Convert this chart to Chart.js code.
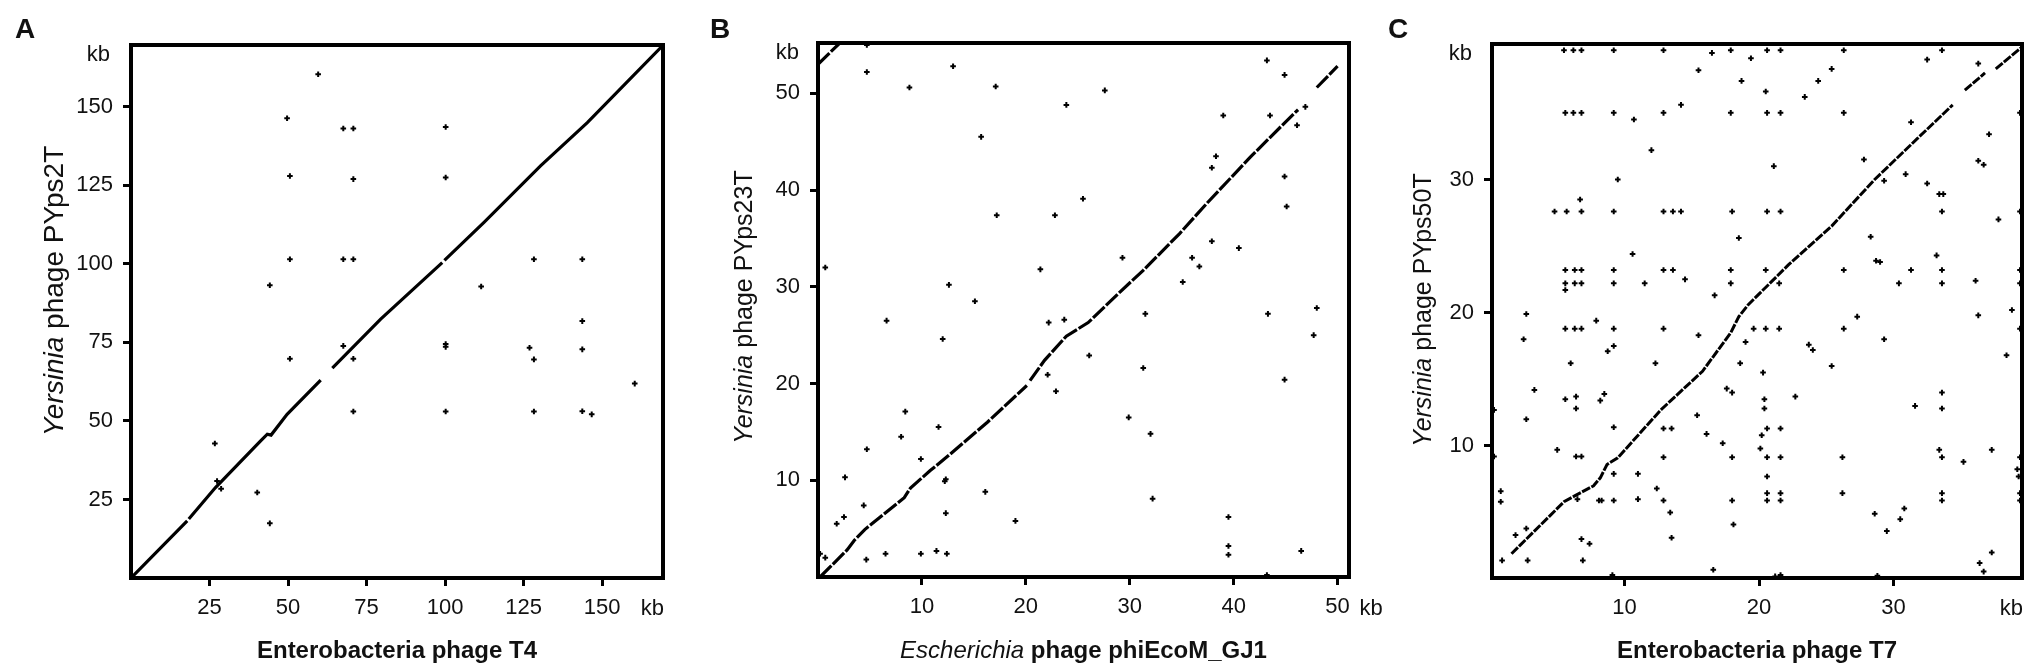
<!DOCTYPE html>
<html>
<head>
<meta charset="utf-8">
<script src="https://cdn.jsdelivr.net/npm/chart.js@4.4.1/dist/chart.umd.min.js"></script>
<style>
  body { margin: 0; background: #fff; }
  #wrap { position: relative; width: 2033px; height: 671px; }
  canvas { position: absolute; left: 0; top: 0; }
</style>
</head>
<body>
<div id="wrap">
  <canvas id="panelA" width="2033" height="671" style="width:2033px;height:671px"></canvas>
  <canvas id="panelB" width="2033" height="671" style="width:2033px;height:671px"></canvas>
  <canvas id="panelC" width="2033" height="671" style="width:2033px;height:671px"></canvas>
</div>
<script>
// dot plots, positions in kb: [x, y]; null = gap in the main diagonal

// A: Enterobacteria phage T4 vs Yersinia phage PYps2T
var aTicks = [25, 50, 75, 100, 125, 150];
var aDiag = [[0,0],[17.9,18.2],null,[18.4,18.8],[26.9,28.8],[41.2,43.6],[43.4,45.8],[44.6,45.5],
  [49.7,52.1],[60.4,63.0],null,[64.1,66.8],[79.5,82.4],[99.1,100.4],null,[99.8,101.1],
  [112.4,113.2],[130.4,131.2],[145.3,145],[169.2,169.4]];
var aDots = [
  [59.6,160.4],[49.7,146.4],[67.6,143.1],[70.8,143.1],[100.2,143.6],
  [50.6,128.0],[70.8,127.0],[100.2,127.5],
  [50.6,101.5],[67.6,101.5],[70.8,101.5],[128.3,101.5],[143.7,101.5],
  [44.2,93.2],[111.5,92.8],[143.7,81.8],
  [67.6,73.9],[100.2,74.5],[100.2,73.6],[126.9,73.3],[143.7,72.8],
  [50.6,69.8],[70.8,69.8],[128.3,69.6],[160.4,61.9],
  [70.8,53.0],[100.2,53.0],[128.3,53.0],[143.7,53.1],[146.7,52.1],
  [26.7,42.8],[27.4,30.9],[28.7,28.4],[40.2,27.2],[44.2,17.4]
];

// B: Escherichia phage phiEcoM_GJ1 vs Yersinia phage PYps23T
var bTicks = [10, 20, 30, 40, 50];
var bDiag = [[0.2,0],[2.8,2.8],[3.5,3.8],[4.5,4.9],[8.3,8.2],[8.9,9.2],[10.8,11.0],[12.5,12.5],
  [16.3,16.0],[20.1,19.8],null,[20.4,20.3],[21.8,22.4],[23.9,24.9],[26.0,26.3],[29.0,29.4],
  [31.3,31.7],[34.8,35.5],[37.4,38.6],[41.6,43.4],[45.8,47.9],[46.2,48.3],null,[48.0,50.6],
  [50.0,52.8],null,[0,53.0],[2.2,55.3]];
var bDots = [
  [4.7,55.0],[4.7,52.2],[8.8,50.6],[13.0,52.8],[17.1,50.7],[23.9,48.8],[27.6,50.3],[15.7,45.5],
  [17.2,37.4],[22.8,37.4],[25.5,39.1],[0.7,32.0],[12.6,30.2],[21.4,31.8],[15.1,28.5],[6.6,26.5],
  [22.2,26.3],[23.7,26.6],[12.0,24.6],[26.1,22.9],[22.1,20.9],[22.9,19.2],[8.4,17.1],[11.6,15.5],
  [8.0,14.5],[4.7,13.2],[9.9,12.2],[2.6,10.3],[12.3,10.1],[12.2,9.9],[16.1,8.8],[4.4,7.4],
  [2.5,6.2],[1.8,5.5],[12.3,6.6],[19.0,5.8],[0.2,2.4],[0.7,2.0],[4.65,1.8],[6.5,2.4],
  [9.9,2.4],[11.4,2.7],[12.4,2.4],
  [29.3,33.0],[31.3,21.6],[31.5,27.2],[29.9,16.5],[32.0,14.8],[32.2,8.1],[35.1,30.5],[36.0,33.0],
  [36.7,32.1],[37.9,34.7],[37.9,42.3],[38.3,43.5],[39.0,47.7],[40.5,34.0],[39.5,6.2],[39.5,3.2],
  [39.5,2.3],[43.2,53.4],[43.5,47.7],[43.3,27.2],[44.9,51.9],[44.9,41.4],[45.1,38.3],[44.9,20.4],
  [46.1,46.7],[46.9,48.6],[48.0,27.8],[47.7,25.0],[46.5,2.7],[43.2,0.2]
];

// C: Enterobacteria phage T7 vs Yersinia phage PYps50T
var cTicks = [10, 20, 30];
var cDiag = [[1.6,1.9],[5.5,5.8],[6.4,6.3],[7.7,7.0],[8.2,7.6],[8.7,8.6],[9.5,9.1],[12.7,12.7],
  [15.8,15.6],[17.9,18.5],[18.5,19.7],[19.2,20.6],[22.2,23.6],[25.4,26.5],[28.6,30.0],[31.8,33.1],[34.4,35.6],
  null,[35.3,36.7],[36.8,38.0],null,[37.6,38.3],[39.5,39.9]];
var cDots = [
  [5.5,39.7],[6.2,39.7],[6.8,39.7],[9.2,39.7],[12.9,39.7],[17.9,39.7],[20.6,39.7],[21.6,39.7],[26.3,39.7],[33.6,39.7],
  [16.5,39.5],[19.4,39.1],[32.5,39.0],[36.3,38.7],[25.4,38.3],[15.5,38.2],[18.7,37.4],[24.4,37.4],[20.5,36.6],[23.4,36.2],[14.2,35.6],
  [5.6,35.0],[6.2,35.0],[6.8,35.0],[9.2,35.0],[12.9,35.0],[17.9,35.0],[20.6,35.0],[21.6,35.0],[26.3,35.0],[39.4,35.0],
  [10.7,34.5],[31.3,34.3],[37.1,33.4],[12.0,32.2],[27.8,31.5],[36.3,31.4],[36.7,31.1],[30.9,30.4],[21.1,31.0],
  [32.5,29.7],[33.4,28.9],[33.7,28.9],[9.5,30.0],[29.3,29.9],[6.7,28.5],
  [4.8,27.6],[5.7,27.6],[6.8,27.6],[9.2,27.6],[12.9,27.6],[13.6,27.6],[14.2,27.6],[18.0,27.6],[20.6,27.6],[21.6,27.6],[33.6,27.6],[39.4,27.6],
  [37.8,27.0],[28.3,25.7],[18.5,25.6],[28.7,23.9],[29.0,23.8],[33.2,24.3],[10.6,24.4],
  [5.6,23.2],[6.3,23.2],[6.8,23.2],[9.2,23.2],[12.9,23.2],[13.6,23.2],[17.9,23.2],[20.5,23.2],[26.3,23.2],[31.3,23.2],[33.6,23.2],[39.4,23.2],
  [5.6,22.2],[6.3,22.2],[6.8,22.2],[9.2,22.2],[11.5,22.2],[17.9,22.2],[21.5,22.2],[30.4,22.2],[33.6,22.2],[39.4,22.2],
  [36.1,22.4],[5.6,21.7],[14.5,22.5],[16.7,21.3],[38.8,20.2],[2.7,19.9],[36.3,19.8],[27.3,19.7],[7.9,19.4],
  [5.6,18.8],[6.3,18.8],[6.8,18.8],[9.2,18.8],[12.9,18.8],[19.6,18.8],[20.5,18.8],[21.5,18.8],[26.3,18.8],[39.4,18.8],
  [2.5,18.0],[15.5,18.3],[29.3,18.0],[9.2,17.5],[8.75,17.1],[19.0,17.8],[23.7,17.6],[24.0,17.2],[38.4,16.8],
  [6.0,16.2],[12.3,16.2],[18.6,16.2],[25.4,16.0],[20.3,15.5],
  [3.3,14.2],[17.6,14.3],[18.0,14.0],[33.6,14.0],[22.7,13.7],[5.6,13.5],[6.4,13.7],[20.4,13.5],[8.2,13.4],[8.5,13.9],
  [31.6,13.0],[0.3,12.7],[6.4,12.8],[20.4,12.8],[33.6,12.8],[2.7,12.0],[15.4,12.3],
  [9.2,11.4],[12.9,11.3],[13.5,11.3],[20.6,11.3],[21.6,11.3],[20.2,10.8],[16.1,10.9],[17.3,10.2],[20.1,9.8],
  [5.0,9.7],[33.4,9.7],[33.6,9.15],[37.3,9.7],[0.3,9.2],[6.4,9.2],[6.8,9.2],[12.9,9.15],[18.0,9.15],[20.6,9.15],
  [21.6,9.15],[26.2,9.15],[35.2,8.8],[39.2,8.25],[39.3,7.7],[39.4,9.15],[9.2,7.9],[11.0,7.9],[20.6,7.7],[12.4,6.8],
  [0.8,6.6],[0.8,5.8],
  [6.5,6.0],[8.1,5.9],[8.3,5.9],[9.2,5.9],[11.0,6.0],[12.9,5.9],[18.0,5.9],[20.6,5.9],[21.6,5.9],[33.6,5.9],[39.4,5.9],
  [20.6,6.45],[21.6,6.45],[26.2,6.45],[33.6,6.45],[39.4,6.45],
  [13.4,5.0],[13.5,3.1],[18.1,4.1],[28.6,4.9],[30.8,5.3],[30.5,4.5],[29.5,3.6],[37.3,2.0],[36.4,1.2],[36.7,0.56],
  [16.6,0.7],[21.2,0.2],[21.6,0.3],[28.8,0.24],[2.7,3.8],[1.9,3.3],[6.8,3.0],[7.4,2.65],[0.9,1.4],[2.8,1.4],
  [6.9,1.4],[9.1,0.3]
];

var FAMILY = '"Liberation Sans", Arial, Helvetica, sans-serif';
Chart.defaults.font.family = FAMILY;
Chart.defaults.color = '#111';

// draws text made of pieces with different styles, centred on (0, 0)
function drawRuns(ctx, runs, size) {
  var total = 0;
  runs.forEach(function (r) {
    ctx.font = r[1] + ' ' + size + 'px ' + FAMILY;
    total += ctx.measureText(r[0]).width;
  });
  var x = -total / 2;
  runs.forEach(function (r) {
    ctx.font = r[1] + ' ' + size + 'px ' + FAMILY;
    ctx.fillText(r[0], x, 0);
    x += ctx.measureText(r[0]).width;
  });
}

function decor(p) {
  return {
    id: 'decor',
    afterDraw: function (chart) {
      var ctx = chart.ctx, a = chart.chartArea;
      ctx.save();
      ctx.strokeStyle = '#000';
      ctx.lineWidth = 4;
      ctx.strokeRect(a.left, a.top, a.right - a.left, a.bottom - a.top);

      ctx.fillStyle = '#111';
      ctx.textBaseline = 'alphabetic';
      ctx.textAlign = 'left';
      ctx.font = 'bold 28px ' + FAMILY;
      ctx.fillText(p.letter, p.letterX, 38);

      // kb units
      ctx.font = '22px ' + FAMILY;
      ctx.textBaseline = 'middle';
      ctx.textAlign = 'right';
      ctx.fillText('kb', a.left - p.kbGap, a.top + 10);
      if (p.kbAfterLast) {
        ctx.textAlign = 'left';
        ctx.fillText('kb', chart.scales.x.getPixelForValue(p.ticks[p.ticks.length - 1]) + 22, 609);
      } else {
        ctx.fillText('kb', a.right + 1, 609);
      }

      // axis titles
      ctx.textAlign = 'left';
      ctx.textBaseline = 'alphabetic';
      ctx.save();
      ctx.translate((a.left + a.right) / 2, 658);
      drawRuns(ctx, p.xTitle, 24);
      ctx.restore();
      ctx.save();
      ctx.translate(a.left - p.yTitleGap, p.yTitleMid);
      ctx.rotate(-Math.PI / 2);
      drawRuns(ctx, p.yTitle, p.yTitleSize);
      ctx.restore();
      ctx.restore();
    }
  };
}

function axis(p, min, max, size, horizontal) {
  return {
    type: 'linear',
    min: min,
    max: max,
    afterBuildTicks: function (s) { s.ticks = p.ticks.map(function (v) { return { value: v }; }); },
    afterFit: function (s) { if (horizontal) s.height = size; else s.width = size; },
    grid: { drawOnChartArea: false, drawTicks: true, tickLength: 8, tickWidth: 3, tickColor: '#000' },
    border: { display: false },
    ticks: { font: { size: 22 }, color: '#111', padding: horizontal ? 9 : 10, autoSkip: false, maxRotation: 0 }
  };
}

function makePanel(id, p) {
  var line = [];
  p.diag.forEach(function (d, i) {
    if (d === null) line.push({ x: p.diag[i - 1][0], y: null });
    else line.push({ x: d[0], y: d[1] });
  });
  new Chart(document.getElementById(id), {
    type: 'scatter',
    data: {
      datasets: [
        { data: line, showLine: true, spanGaps: false, borderColor: '#000', borderWidth: p.lineWidth,
          borderDash: p.dash, pointRadius: 0, tension: 0 },
        { data: p.dots.map(function (d) { return { x: d[0], y: d[1] }; }), pointStyle: 'cross',
          pointRadius: 2.8, borderWidth: 2, borderColor: '#000', backgroundColor: '#000', clip: 4 }
      ]
    },
    options: {
      responsive: false,
      animation: false,
      devicePixelRatio: 1,
      layout: { padding: p.padding },
      plugins: { legend: { display: false }, tooltip: { enabled: false } },
      scales: {
        x: axis(p, p.x[0], p.x[1], p.xHeight, true),
        y: axis(p, p.y[0], p.y[1], p.yWidth, false)
      }
    },
    plugins: [decor(p)]
  });
}

makePanel('panelA', {
  letter: 'A', letterX: 15, ticks: aTicks, diag: aDiag, dots: aDots, lineWidth: 3.2, dash: [],
  x: [0, 169.4], y: [0, 169.7], padding: { left: 0, right: 1370, top: 45, bottom: 0 },
  yWidth: 131, xHeight: 93, kbGap: 21, yTitleGap: 68, yTitleSize: 28, yTitleMid: 291,
  xTitle: [['Enterobacteria phage T4', 'bold']],
  yTitle: [['Yersinia', 'italic'], [' phage PYps2T', 'normal']]
});

makePanel('panelB', {
  letter: 'B', letterX: 710, ticks: bTicks, diag: bDiag, dots: bDots, lineWidth: 3.2, dash: [16, 2],
  x: [0, 51.1], y: [0, 55.2], padding: { left: 680, right: 684, top: 43, bottom: 0 },
  yWidth: 138, xHeight: 94, kbGap: 19, yTitleGap: 66, yTitleSize: 25, yTitleMid: 307, kbAfterLast: true,
  xTitle: [['Escherichia', 'italic'], [' phage phiEcoM_GJ1', 'bold']],
  yTitle: [['Yersinia', 'italic'], [' phage PYps23T', 'normal']]
});

makePanel('panelC', {
  letter: 'C', letterX: 1388, ticks: cTicks, diag: cDiag, dots: cDots, lineWidth: 3, dash: [9, 1.5],
  x: [0.15, 39.55], y: [0.08, 40.17], padding: { left: 1360, right: 11, top: 44, bottom: 0 },
  yWidth: 132, xHeight: 93, kbGap: 20, yTitleGap: 61, yTitleSize: 25, yTitleMid: 310,
  xTitle: [['Enterobacteria phage T7', 'bold']],
  yTitle: [['Yersinia', 'italic'], [' phage PYps50T', 'normal']]
});
</script>
</body>
</html>
